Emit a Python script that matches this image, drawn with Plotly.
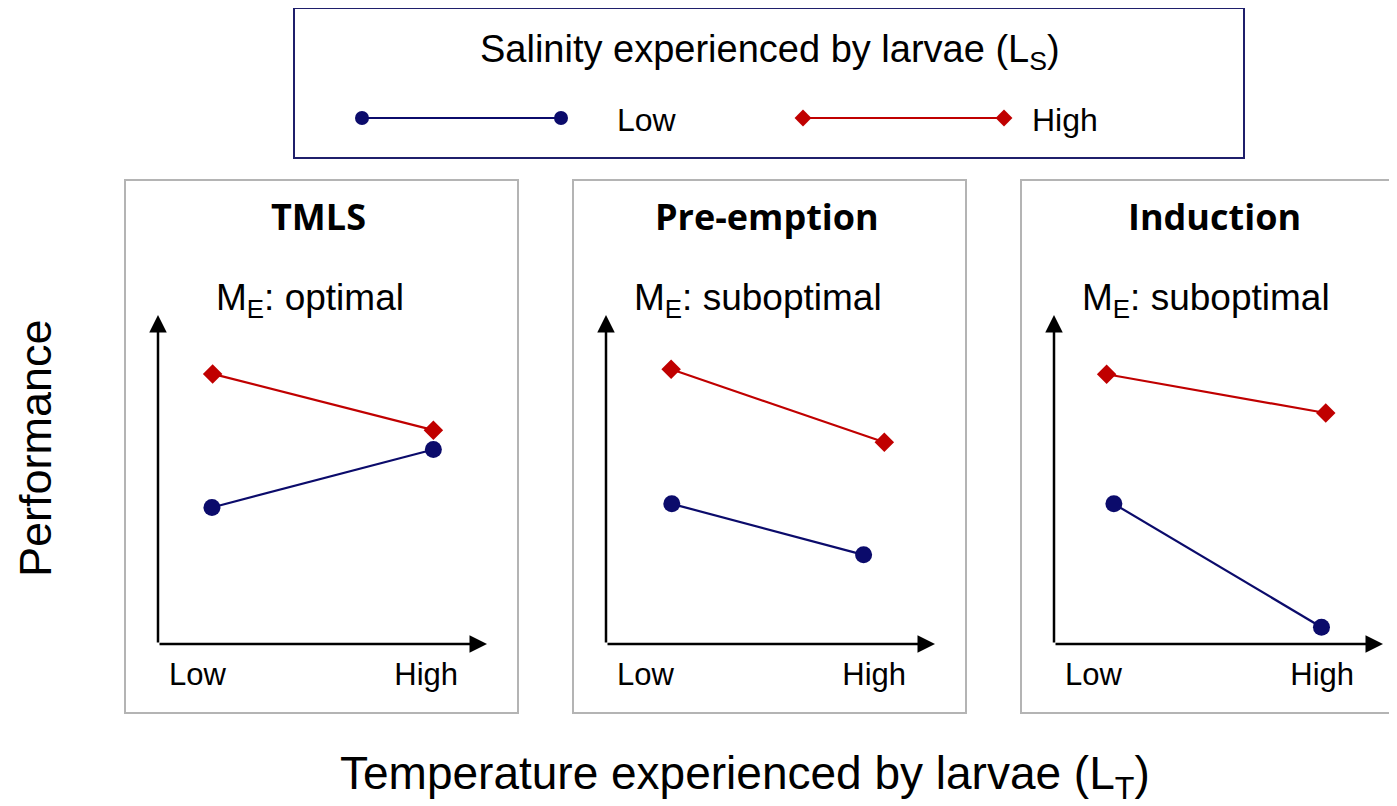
import plotly.graph_objects as go

W, H = 1397, 806
OFF = 8                      # page body margin
WF, HF = W - OFF, H - OFF    # figure size so the figure ends at the window edge

# ---- data (relative performance, schematic) ----
panels = ["TMLS", "Pre-emption", "Induction"]
subtitles = ["M<sub>E</sub>: optimal", "M<sub>E</sub>: suboptimal", "M<sub>E</sub>: suboptimal"]
temp_levels = ["Low", "High"]

low_sal_x = [[0.164, 0.837], [0.200, 0.783], [0.182, 0.813]]
low_sal_y = [[0.415, 0.591], [0.426, 0.271], [0.426, 0.051]]
high_sal_x = [[0.166, 0.837], [0.198, 0.846], [0.160, 0.826]]
high_sal_y = [[0.821, 0.650], [0.835, 0.613], [0.820, 0.702]]
tick_pos = [0.12, 0.815]

NAVY = "#0B0B6B"
RED = "#C00000"
BORDER = "#B4B4B4"
ARIAL = "Liberation Sans, Arial, Helvetica"
BOLD = "Open Sans, Segoe UI, Noto Sans, sans-serif"

def px(x):
    return (x - OFF) / WF

def py(y):
    return 1 - (y - OFF) / HF

fig = go.Figure()
layout = dict(
    width=WF, height=HF, margin=dict(l=0, r=0, t=0, b=0),
    paper_bgcolor="white", plot_bgcolor="rgba(0,0,0,0)",
    showlegend=False, shapes=[], annotations=[],
)

panel_left = [125, 573, 1021]
panel_w = 393
axis_offset = 33       # y-axis x position relative to panel left
axis_len = 329
x_axis_y = 644
y_tip = 315

for i, name in enumerate(panels):
    k = "" if i == 0 else str(i + 1)
    xa, ya = "x" + k, "y" + k
    left = panel_left[i]
    ax0 = left + axis_offset
    layout["xaxis" + k] = dict(
        domain=[px(ax0), px(ax0 + axis_len)], range=[0, 1], anchor=ya,
        showgrid=False, zeroline=False, showline=False,
        tickvals=tick_pos, ticktext=temp_levels, ticks="outside", ticklen=3,
        tickcolor="rgba(0,0,0,0)",
        tickfont=dict(family=ARIAL, size=31, color="black"), fixedrange=True,
    )
    layout["yaxis" + k] = dict(
        domain=[py(x_axis_y), py(y_tip)], range=[0, 1], anchor=xa,
        showgrid=False, zeroline=False, showline=False, showticklabels=False,
        fixedrange=True,
    )
    # panel frame
    layout["shapes"].append(dict(
        type="rect", xref="paper", yref="paper",
        x0=px(left), x1=px(left + panel_w), y0=py(713), y1=py(180),
        line=dict(color=BORDER, width=2), layer="below",
    ))
    # axis arrows
    for (tx, ty) in [(1, 0), (0, 1)]:
        layout["annotations"].append(dict(
            x=tx, y=ty, ax=0, ay=0, xref=xa, yref=ya, axref=xa, ayref=ya,
            showarrow=True, arrowhead=2, arrowsize=1.4, arrowwidth=2.5,
            arrowcolor="black", text="",
        ))
    cx = left + panel_w / 2
    layout["annotations"].append(dict(
        x=px(cx - 3), y=py(217), xref="paper", yref="paper", showarrow=False,
        text="<b>" + name + "</b>", font=dict(family=BOLD, size=36, color="black"),
        xanchor="center", yanchor="middle",
    ))
    layout["annotations"].append(dict(
        x=px(cx - 12), y=py(300), xref="paper", yref="paper", showarrow=False,
        text=subtitles[i], font=dict(family=ARIAL, size=37, color="black"),
        xanchor="center", yanchor="middle",
    ))
    fig.add_trace(go.Scatter(
        x=high_sal_x[i], y=high_sal_y[i], xaxis=xa, yaxis=ya, mode="lines+markers",
        line=dict(color=RED, width=2.2),
        marker=dict(symbol="diamond", size=15, color=RED), cliponaxis=False,
        name="High",
    ))
    fig.add_trace(go.Scatter(
        x=low_sal_x[i], y=low_sal_y[i], xaxis=xa, yaxis=ya, mode="lines+markers",
        line=dict(color=NAVY, width=2.2),
        marker=dict(symbol="circle", size=17, color=NAVY), cliponaxis=False,
        name="Low",
    ))

# ---- custom legend ----
layout["shapes"].append(dict(
    type="rect", xref="paper", yref="paper",
    x0=px(294), x1=px(1244), y0=py(158), y1=py(8),
    line=dict(color="#1F1F6B", width=2),
))
layout["xaxis4"] = dict(domain=[0, 1], range=[OFF, W], visible=False, fixedrange=True, anchor="y4")
layout["yaxis4"] = dict(domain=[0, 1], range=[H, OFF], visible=False, fixedrange=True, anchor="x4")
fig.add_trace(go.Scatter(
    x=[362, 561], y=[118, 118], xaxis="x4", yaxis="y4", mode="lines+markers",
    line=dict(color=NAVY, width=2.2), marker=dict(symbol="circle", size=14, color=NAVY),
    cliponaxis=False, hoverinfo="skip",
))
fig.add_trace(go.Scatter(
    x=[803, 1004], y=[118, 118], xaxis="x4", yaxis="y4", mode="lines+markers",
    line=dict(color=RED, width=2.2), marker=dict(symbol="diamond", size=13, color=RED),
    cliponaxis=False, hoverinfo="skip",
))
layout["annotations"] += [
    dict(x=px(770), y=py(52), xref="paper", yref="paper", showarrow=False,
         text="Salinity experienced by larvae (L<sub>S</sub>)",
         font=dict(family=ARIAL, size=38, color="black"), xanchor="center", yanchor="middle"),
    dict(x=px(615), y=py(120), xref="paper", yref="paper", showarrow=False,
         text="Low", font=dict(family=ARIAL, size=32, color="black"),
         xanchor="left", yanchor="middle"),
    dict(x=px(1030), y=py(120), xref="paper", yref="paper", showarrow=False,
         text="High", font=dict(family=ARIAL, size=32, color="black"),
         xanchor="left", yanchor="middle"),
    dict(x=px(35), y=py(448), xref="paper", yref="paper", showarrow=False,
         text="Performance", textangle=-90, borderpad=0,
         font=dict(family=ARIAL, size=45, color="black"), xanchor="center", yanchor="middle"),
    dict(x=px(745), y=py(776), xref="paper", yref="paper", showarrow=False,
         text="Temperature experienced by larvae (L<sub>T</sub>)",
         font=dict(family=ARIAL, size=46, color="black"), xanchor="center", yanchor="middle"),
]

fig.update_layout(**layout)
fig.write_html("out.html")
